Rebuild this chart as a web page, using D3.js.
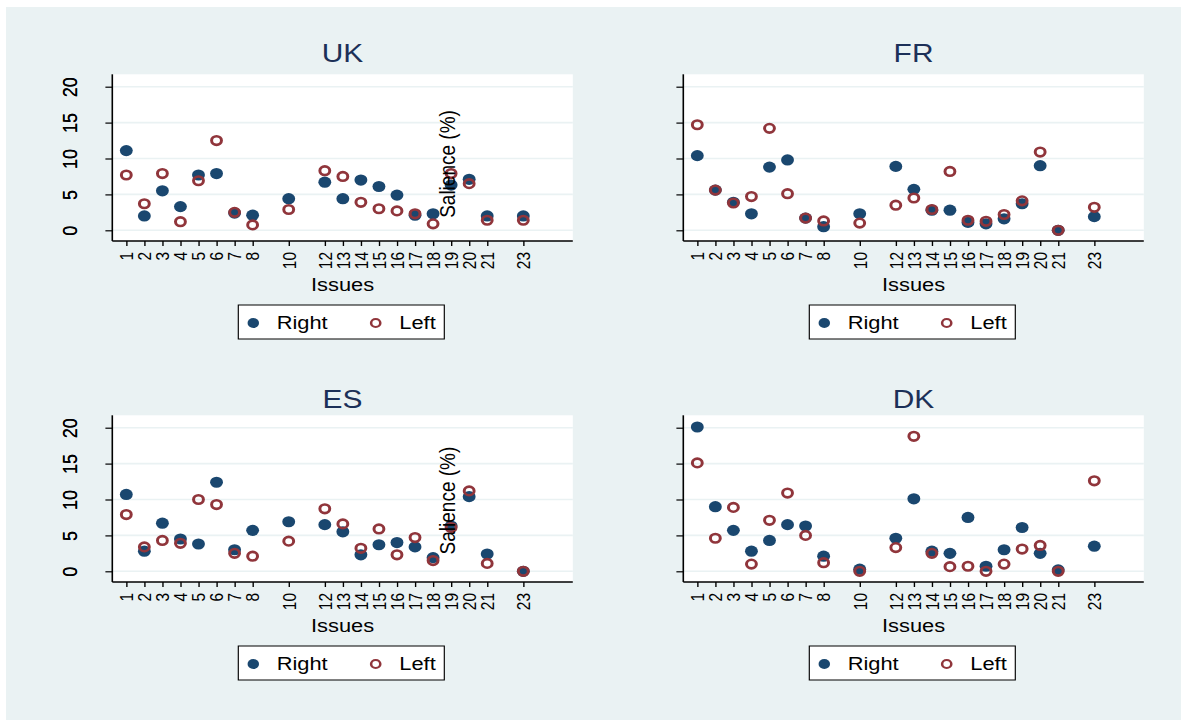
<!DOCTYPE html>
<html>
<head>
<meta charset="utf-8">
<script src="https://cdn.jsdelivr.net/npm/d3@7"></script>
<style>
    body { margin: 0; background: #fff; }
    text { font-family: "Liberation Sans", Arial, sans-serif; }
</style>
</head>
<body>
<div id="chart"></div>
<script>
// issues on the x axis
var issues = [1, 2, 3, 4, 5, 6, 7, 8, 10, 12, 13, 14, 15, 16, 17, 18, 19, 20, 21, 23];
var yTicks = [0, 5, 10, 15, 20];
var seriesNames = ["Right", "Left"];

// salience (%) per issue
var ukRight = [11.1, 2.0, 5.5, 3.3, 7.7, 7.9, 2.4, 2.1, 4.4, 6.7, 4.4, 7.0, 6.1, 4.9, 2.1, 2.3, 6.3, 7.1, 2.0, 2.0];
var ukLeft  = [7.7, 3.7, 7.9, 1.2, 6.9, 12.5, 2.5, 0.75, 2.9, 8.3, 7.5, 3.9, 3.0, 2.7, 2.3, 0.9, 7.9, 6.5, 1.4, 1.4];

var frRight = [10.4, 5.6, 3.9, 2.3, 8.8, 9.8, 1.7, 0.5, 2.3, 8.9, 5.7, 2.8, 2.8, 1.1, 0.9, 1.6, 3.7, 9.0, 0, 1.9];
var frLeft  = [14.7, 5.6, 3.8, 4.7, 14.2, 5.1, 1.7, 1.3, 1.0, 3.5, 4.5, 2.9, 8.2, 1.4, 1.25, 2.2, 4.1, 10.9, 0, 3.2];

var esRight = [10.7, 2.8, 6.7, 4.5, 3.8, 12.4, 3.0, 5.7, 6.9, 6.5, 5.5, 2.3, 3.7, 4.0, 3.4, 1.9, 6.3, 10.4, 2.4, 0];
var esLeft  = [7.9, 3.4, 4.3, 3.9, 10.0, 9.3, 2.5, 2.1, 4.2, 8.7, 6.6, 3.2, 5.9, 2.3, 4.7, 1.5, 6.1, 11.2, 1.1, 0];

var dkRight = [20.1, 9.0, 5.7, 2.8, 4.3, 6.5, 6.3, 2.1, 0.3, 4.6, 10.1, 2.8, 2.5, 7.5, 0.7, 3.0, 6.1, 2.5, 0.2, 3.5];
var dkLeft  = [15.1, 4.6, 8.9, 1.0, 7.1, 10.9, 5.0, 1.2, 0, 3.3, 18.8, 2.5, 0.65, 0.7, 0, 1.0, 3.1, 3.6, 0, 12.6];

var panels = [
    { name: "UK", right: ukRight, left: ukLeft, col: 0, row: 0, yTitle: true },
    { name: "FR", right: frRight, left: frLeft, col: 1, row: 0, yTitle: false },
    { name: "ES", right: esRight, left: esLeft, col: 0, row: 1, yTitle: true },
    { name: "DK", right: dkRight, left: dkLeft, col: 1, row: 1, yTitle: false }
];

var navy = "#1a476f", maroon = "#90353b", gridCol = "#eaf2f3";

// the picture is stretched sideways, so draw in a narrower space and scale x
var SX = 1.15;
var px = function (v) { return v / SX; };

var svg = d3.select("#chart").append("svg")
    .attr("width", 1181)
    .attr("height", 720);

svg.append("rect")
    .attr("width", 1181).attr("height", 720)
    .attr("fill", "#fff");
svg.append("rect")
    .attr("x", 6).attr("y", 7)
    .attr("width", 1175).attr("height", 713)
    .attr("fill", gridCol);

var root = svg.append("g").attr("transform", "scale(" + SX + ",1)");

var plotW = 460.5;
var colLeft = [112.3, 683.3];
var rowOff = [0, 341];
var titleY = [62, 408];

panels.forEach(function (p) {
    var L = colLeft[p.col], dy = rowOff[p.row];
    var g = root.append("g");

    var x = d3.scaleLinear().domain([1, 23]).range([px(L + 14), px(L + 411)]);
    var y = d3.scaleLinear().domain([0, 20]).range([230.3 + dy, 86.7 + dy]);

    // plot region
    g.append("rect")
        .attr("x", px(L)).attr("y", 74.3 + dy)
        .attr("width", px(plotW)).attr("height", 241 - 74.3)
        .attr("fill", "#fff");

    g.selectAll(".grid")
        .data(yTicks)
        .enter().append("line")
        .attr("x1", px(L)).attr("x2", px(L + plotW))
        .attr("y1", function (d) { return y(d); })
        .attr("y2", function (d) { return y(d); })
        .attr("stroke", gridCol)
        .attr("stroke-width", 1.6);

    // y axis
    var yAxis = d3.axisLeft(y).tickValues(yTicks).tickSize(6).tickSizeOuter(0);
    var yG = g.append("g")
        .attr("transform", "translate(" + px(L) + ",0)")
        .call(yAxis);
    yG.select(".domain").remove();
    yG.selectAll("line").attr("stroke", "#000").attr("stroke-width", 1.2);
    yG.selectAll("text")
        .attr("x", 0).attr("dy", 0)
        .attr("text-anchor", "middle")
        .attr("transform", "translate(" + px(77 - L) + ",0) rotate(-90)")
        .attr("font-size", 18)
        .attr("fill", "#000");

    // x axis
    var xAxis = d3.axisBottom(x).tickValues(issues).tickSize(5).tickSizeOuter(0);
    var xG = g.append("g")
        .attr("transform", "translate(0," + (241 + dy) + ")")
        .call(xAxis);
    xG.select(".domain").remove();
    xG.selectAll("line").attr("stroke", "#000").attr("stroke-width", 1.2);
    xG.selectAll("text")
        .attr("x", 0).attr("y", 0).attr("dy", "0.35em")
        .attr("text-anchor", "end")
        .attr("transform", "translate(0,11) rotate(-90)")
        .attr("font-size", 15.5)
        .attr("fill", "#000");

    // axis lines
    g.append("line")
        .attr("x1", px(L)).attr("x2", px(L))
        .attr("y1", 74.3 + dy).attr("y2", 241 + dy)
        .attr("stroke", "#000").attr("stroke-width", 1.4);
    g.append("line")
        .attr("x1", px(L)).attr("x2", px(L + plotW))
        .attr("y1", 241 + dy).attr("y2", 241 + dy)
        .attr("stroke", "#000").attr("stroke-width", 1.4);

    // markers: right first, left on top
    g.selectAll(".right")
        .data(p.right)
        .enter().append("circle")
        .attr("cx", function (d, i) { return x(issues[i]); })
        .attr("cy", function (d) { return y(d); })
        .attr("r", 5.6)
        .attr("fill", navy);

    g.selectAll(".left")
        .data(p.left)
        .enter().append("circle")
        .attr("cx", function (d, i) { return x(issues[i]); })
        .attr("cy", function (d) { return y(d); })
        .attr("r", 4.3)
        .attr("fill", "none")
        .attr("stroke", maroon)
        .attr("stroke-width", 2.6);

    var cx = px(L + plotW / 2);

    g.append("text")
        .attr("x", cx).attr("y", titleY[p.row])
        .attr("text-anchor", "middle")
        .attr("font-size", 26)
        .attr("fill", "#1c3058")
        .text(p.name);

    g.append("text")
        .attr("x", cx).attr("y", 291 + dy)
        .attr("text-anchor", "middle")
        .attr("font-size", 19)
        .attr("fill", "#000")
        .text("Issues");

    if (p.yTitle) {
        g.append("text")
            .attr("text-anchor", "middle")
            .attr("transform", "translate(" + px(455) + "," + (164 + dy * 0.987) + ") rotate(-90)")
            .attr("font-size", 19)
            .attr("fill", "#000")
            .text("Salience (%)");
    }

    // legend
    var lg = g.append("g");
    lg.append("rect")
        .attr("x", px(L + 126)).attr("y", 305 + dy)
        .attr("width", px(206)).attr("height", 34)
        .attr("fill", "#fff")
        .attr("stroke", "#000").attr("stroke-width", 1);
    lg.append("circle")
        .attr("cx", px(L + 141)).attr("cy", 323 + dy)
        .attr("r", 5).attr("fill", navy);
    lg.append("circle")
        .attr("cx", px(L + 263.4)).attr("cy", 323 + dy)
        .attr("r", 4).attr("fill", "none")
        .attr("stroke", maroon).attr("stroke-width", 2.2);
    lg.append("text")
        .attr("x", px(L + 164.4)).attr("y", 329 + dy)
        .attr("font-size", 19).attr("fill", "#000")
        .text(seriesNames[0]);
    lg.append("text")
        .attr("x", px(L + 287)).attr("y", 329 + dy)
        .attr("font-size", 19).attr("fill", "#000")
        .text(seriesNames[1]);
});
</script>
</body>
</html>
